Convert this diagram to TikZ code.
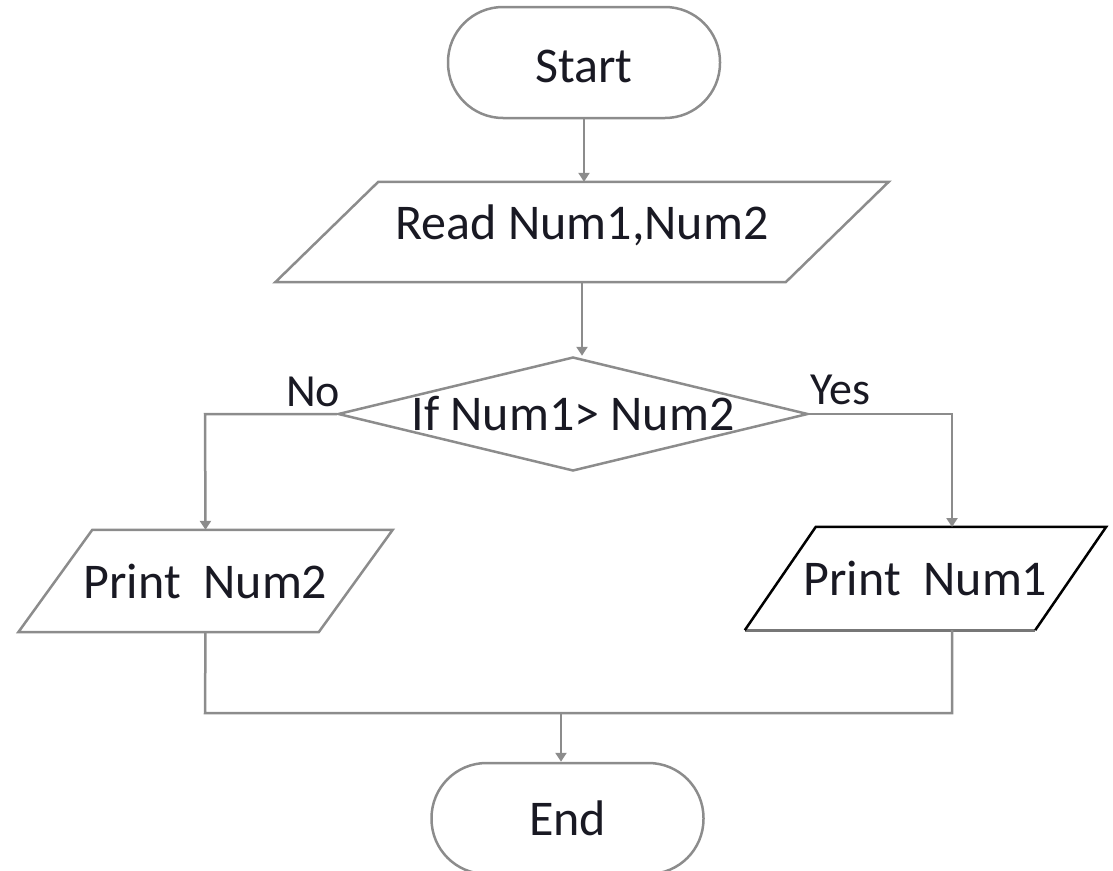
\documentclass[tikz,border=0pt]{standalone}
\usepackage{fontspec}
\setmainfont{Carlito}
\usetikzlibrary{shapes.geometric,arrows.meta}
\definecolor{linegray}{RGB}{140,140,140}
\definecolor{txt}{RGB}{25,25,35}
\tikzset{
  base/.style={font=\fontsize{50}{60}\selectfont, text=txt, inner sep=0pt},
  termbox/.style={base, draw=linegray, line width=2.5pt, rounded corners=55pt,
    minimum width=272pt, minimum height=111pt},
  iobox/.style={base, minimum height=#1},
  decbox/.style={base, diamond, draw=linegray, line width=2.5pt,
    minimum width=470pt, minimum height=114pt},
  outline/.style={draw=linegray, line width=2.5pt, line join=miter},
  conn/.style={draw=linegray, line width=2.5pt},
  arr/.style={conn, -{Triangle[length=9pt,width=11pt]}},
  lbl/.style={base, font=\fontsize{46}{55}\selectfont}
}
\begin{document}
\begin{tikzpicture}[x=1pt,y=-1pt]
\useasboundingbox (0,0) rectangle (1113,870);
% nodes
\node[termbox] (start) at (584,62.5) {\raisebox{-4pt}[\height][\depth]{Start}};
\node[iobox=100pt, minimum width=510pt] (read) at (582,232) {\raisebox{7pt}[\height][\depth]{Read Num1,Num2}};
\draw[outline] ([xshift=51.5pt]read.north west) -- ([xshift=51.5pt]read.north east)
  -- ([xshift=-51.5pt]read.south east) -- ([xshift=-51.5pt]read.south west) -- cycle;
\node[decbox] (dec) at (573,414) {\makebox[0pt]{If Num1> Num2}};
\node[iobox=102pt, minimum width=300pt] (p2) at (205.5,581) {Print\ \ Num2};
\draw[outline] ([xshift=37pt]p2.north west) -- ([xshift=37pt]p2.north east)
  -- ([xshift=-37pt]p2.south east) -- ([xshift=-37pt]p2.south west) -- cycle;
\node[iobox=103pt, minimum width=290pt] (p1) at (925.5,578.5) {Print\ \ Num1};
\draw[draw=linegray!85!black, line width=3pt] ([xshift=-35.5pt]p1.south west) -- ([xshift=-35.5pt]p1.south east);
\draw[draw=black, line width=2.5pt, line join=miter] ([xshift=-35.5pt]p1.south west) -- ([xshift=35.5pt]p1.north west)
  -- ([xshift=35.5pt]p1.north east) -- ([xshift=-35.5pt]p1.south east);
\node[termbox] (end) at (567.5,818.5) {End};
% labels
\node[lbl] (no) at (313,392) {No};
\node[lbl] (yes) at (840,390) {Yes};
% coordinates
\coordinate (lturn) at (205,414);
\coordinate (rturn) at (952,414);
\coordinate (p1in) at (952,527);
\coordinate (p1out) at (952,630);
\coordinate (mergeL) at (205,713);
\coordinate (mergeR) at (952,713);
\coordinate (mergeC) at (561,713);
% connectors
\draw[arr] (start.south) -- (start.south |- read.north);
\draw[arr] (read.south) -- (read.south |- dec.north);
\draw[arr] (dec.west) -- (lturn) -- (p2.north);
\draw[arr] (dec.east) -- (rturn) -- (p1in);
\draw[conn] (p2.south) -- (mergeL) -- (mergeR) -- (p1out);
\draw[arr] (mergeC) -- (mergeC |- end.north);
\end{tikzpicture}
\end{document}
